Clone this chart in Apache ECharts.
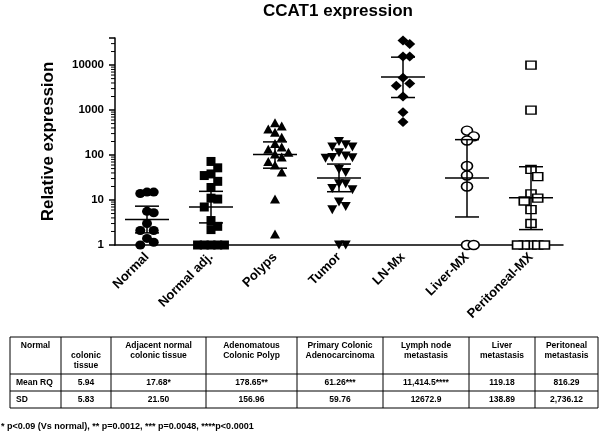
<!DOCTYPE html>
<html>
<head>
<meta charset="utf-8">
<script src="https://cdn.jsdelivr.net/npm/echarts@6/dist/echarts.min.js"></script>
<style>
  html, body { margin: 0; padding: 0; background: #fff; }
  #chart { width: 600px; height: 437px; }
</style>
</head>
<body>
<div id="chart"></div>
<script>
var groups = ['Normal', 'Normal adj.', 'Polyps', 'Tumor', 'LN-Mx', 'Liver-MX', 'Peritoneal-MX'];

var normal = [15, 14, 15, 5.2, 5.6, 3.0, 2.1, 2.1, 1.4, 1.0, 1.15];
var normalAdj = [72, 52, 38, 35, 26, 19, 10.5, 11, 7, 3.5, 2.6, 2.2, 1, 1, 1, 1, 1];
var polyps = [520, 440, 380, 320, 250, 180, 150, 135, 115, 105, 90, 72, 60, 42, 10.5, 1.75];
var tumor = [200, 170, 150, 150, 112, 95, 88, 87, 85, 48, 41, 23, 23, 18, 17, 9, 7.2, 6.1, 1, 1];
var lnMx = [35000, 29500, 15500, 15500, 5250, 3900, 3450, 1990, 890, 540];
var liverMx = [350, 260, 210, 57, 35, 20, 1, 1];
var peritonealMx = [10000, 1000, 48, 33, 13.7, 11, 9.5, 6.1, 3.0, 1, 1, 1, 1, 1];

// mean and SD bars
var meanValues = [3.7, 7.0, 103, 31, 5450, 31, 11.2];
var sdLow = [1.86, 3.1, 51, 15.3, 1900, 4.2, 2.2];
var sdHigh = [7.3, 15.6, 196, 63, 15000, 220, 55];

var yTicks = [1, 10, 100, 1000, 10000];

var tableHeader = ['Normal', 'colonic\ntissue', 'Adjacent normal\ncolonic tissue', 'Adenomatous\nColonic Polyp',
  'Primary Colonic\nAdenocarcinoma', 'Lymph node\nmetastasis', 'Liver\nmetastasis', 'Peritoneal\nmetastasis'];
var meanRQ = ['Mean RQ', '5.94', '17.68*', '178.65**', '61.26***', '11,414.5****', '119.18', '816.29'];
var sdRow = ['SD', '5.83', '21.50', '156.96', '59.76', '12672.9', '138.89', '2,736.12'];
var footnote = '* p<0.09 (Vs normal), ** p=0.0012, *** p=0.0048, ****p<0.0001';

var FONT = '"Liberation Sans", Arial, Helvetica, sans-serif';

// spread points that sit at the same height, like a dot plot
function swarm(values, idx) {
  var placed = [];
  var order = values.map(function (v, i) { return i; })
    .sort(function (a, b) { return values[b] - values[a]; });
  var out = [];
  order.forEach(function (i) {
    var ly = Math.log10(values[i]);
    var dx = 0;
    for (var k = 0; k < 30; k++) {
      dx = (k % 2 ? 1 : -1) * Math.ceil(k / 2);
      var hit = placed.some(function (p) {
        return Math.abs(p.dx - dx) < 1 && Math.abs(p.ly - ly) < 0.2;
      });
      if (!hit) break;
    }
    placed.push({ dx: dx, ly: ly });
    out.push([idx + dx * 0.105, values[i]]);
  });
  return out;
}

var pointSets = [
  { data: normal, symbol: 'circle', size: [10, 9], fill: '#000' },
  { data: normalAdj, symbol: 'rect', size: [9, 9], fill: '#000' },
  { data: polyps, symbol: 'triangle', size: [10, 9], fill: '#000' },
  { data: tumor, symbol: 'triangle', size: [10, 9], fill: '#000', rotate: 180 },
  { data: lnMx, symbol: 'diamond', size: [11, 10], fill: '#000' },
  { data: liverMx, symbol: 'circle', size: [11, 9], fill: '#fff' },
  { data: peritonealMx, symbol: 'rect', size: [10, 8], fill: '#fff' }
];

var series = pointSets.map(function (s, i) {
  return {
    name: groups[i],
    type: 'scatter',
    xAxisIndex: 1,
    symbol: s.symbol,
    symbolSize: s.size,
    symbolRotate: s.rotate || 0,
    itemStyle: { color: s.fill, borderColor: '#000', borderWidth: s.fill === '#fff' ? 1.5 : 0, opacity: 1 },
    data: swarm(s.data, i),
    z: 3
  };
});

series.push({
  type: 'custom',
  xAxisIndex: 1,
  z: 5,
  data: meanValues.map(function (m, i) { return [i, m, sdLow[i], sdHigh[i]]; }),
  renderItem: function (params, api) {
    var x = api.value(0);
    var c = api.coord([x, api.value(1)]);
    var lo = api.coord([x, api.value(2)]);
    var hi = api.coord([x, api.value(3)]);
    var st = { stroke: '#000', lineWidth: 1.5 };
    return {
      type: 'group',
      children: [
        { type: 'line', shape: { x1: c[0], y1: lo[1], x2: c[0], y2: hi[1] }, style: st },
        { type: 'line', shape: { x1: c[0] - 22, y1: c[1], x2: c[0] + 22, y2: c[1] }, style: st },
        { type: 'line', shape: { x1: c[0] - 12, y1: lo[1], x2: c[0] + 12, y2: lo[1] }, style: st },
        { type: 'line', shape: { x1: c[0] - 12, y1: hi[1], x2: c[0] + 12, y2: hi[1] }, style: st }
      ]
    };
  }
});

// minor log ticks on the y axis
var minorTicks = [];
for (var e = 0; e < 5; e++) {
  for (var m = 2; m <= 9; m++) {
    if (m * Math.pow(10, e) < 40000) minorTicks.push(m * Math.pow(10, e));
  }
}
series.push({
  type: 'custom',
  xAxisIndex: 1,
  clip: false,
  silent: true,
  data: minorTicks.map(function (v) { return [-0.5, v]; }),
  renderItem: function (params, api) {
    var p = api.coord([api.value(0), api.value(1)]);
    return { type: 'line', shape: { x1: p[0] - 4, y1: p[1], x2: p[0], y2: p[1] }, style: { stroke: '#000', lineWidth: 1 } };
  }
});

// table under the plot
var colEdges = [10, 61, 111, 206, 297, 383, 469, 535, 598];
var rowEdges = [337, 374, 391, 408];
var graphics = [];
var lineStyle = { stroke: '#000', lineWidth: 1 };
rowEdges.forEach(function (y) {
  graphics.push({ type: 'line', shape: { x1: colEdges[0], y1: y, x2: colEdges[colEdges.length - 1], y2: y }, style: lineStyle });
});
colEdges.forEach(function (x) {
  graphics.push({ type: 'line', shape: { x1: x, y1: rowEdges[0], x2: x, y2: rowEdges[rowEdges.length - 1] }, style: lineStyle });
});
tableHeader.forEach(function (t, i) {
  var cx = (colEdges[i] + colEdges[i + 1]) / 2;
  graphics.push({
    type: 'text',
    x: cx, y: i === 1 ? 351 : 341,
    style: { text: t, font: 'bold 8.5px ' + FONT, fill: '#000', align: 'center', verticalAlign: 'top', lineHeight: 10 }
  });
});
[meanRQ, sdRow].forEach(function (row, r) {
  var cy = (rowEdges[r + 1] + rowEdges[r + 2]) / 2;
  row.forEach(function (t, i) {
    var first = i === 0;
    graphics.push({
      type: 'text',
      x: first ? colEdges[0] + 6 : (colEdges[i] + colEdges[i + 1]) / 2,
      y: cy,
      style: { text: t, font: 'bold 8.5px ' + FONT, fill: '#000', align: first ? 'left' : 'center', verticalAlign: 'middle' }
    });
  });
});
graphics.push({
  type: 'text', x: 1, y: 427,
  style: { text: footnote, font: 'bold 9px ' + FONT, fill: '#000', align: 'left', verticalAlign: 'middle' }
});

var chart = echarts.init(document.getElementById('chart'));
chart.setOption({
  animation: false,
  backgroundColor: '#fff',
  title: {
    text: 'CCAT1 expression',
    left: 338, top: 3, padding: 0, textAlign: 'center',
    textStyle: { fontFamily: FONT, fontSize: 17, fontWeight: 'bold', color: '#000' }
  },
  grid: { left: 115, right: 37, top: 38, bottom: 192, outerBoundsMode: 'none' },
  xAxis: [{
    type: 'category',
    data: groups,
    boundaryGap: true,
    axisLine: { onZero: false, lineStyle: { color: '#000', width: 1.5 } },
    axisTick: { alignWithLabel: true, length: 5, lineStyle: { color: '#000', width: 1.5 } },
    axisLabel: { rotate: 45, interval: 0, margin: 10, color: '#000', fontFamily: FONT, fontSize: 13, fontWeight: 'bold' },
    splitLine: { show: false }
  }, {
    type: 'value', min: -0.5, max: 6.5, show: false
  }],
  yAxis: {
    type: 'log', logBase: 10, min: 1, max: 40000,
    name: 'Relative expression', nameLocation: 'middle', nameGap: 58,
    nameTextStyle: { fontFamily: FONT, fontSize: 17, fontWeight: 'bold', color: '#000' },
    axisLine: { show: true, onZero: false, lineStyle: { color: '#000', width: 1.5 } },
    axisTick: { show: true, length: 6, lineStyle: { color: '#000', width: 1.5 } },
    axisLabel: {
      margin: 11, color: '#000', fontFamily: FONT, fontSize: 11.5, fontWeight: 'bold',
      formatter: function (v) {
        var r = Math.round(v);
        return yTicks.indexOf(r) >= 0 ? String(r) : '';
      }
    },
    splitLine: { show: false }
  },
  graphic: graphics,
  series: series
});
</script>
</body>
</html>
